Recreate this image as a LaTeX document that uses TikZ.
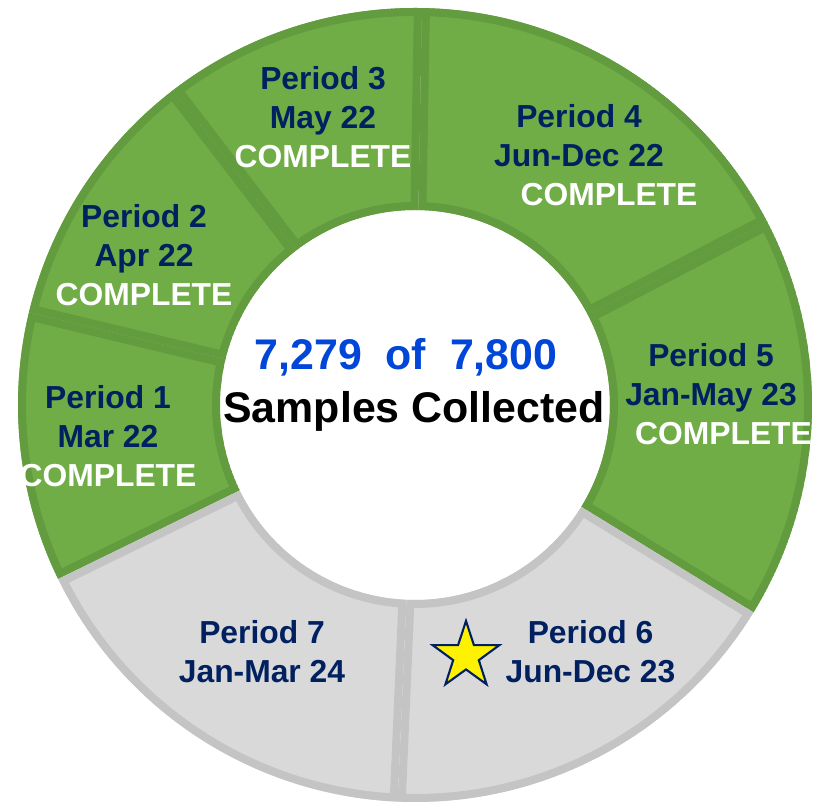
\documentclass[tikz,border=0pt]{standalone}
\usepackage{fontspec}
\setmainfont{Liberation Sans}
\usetikzlibrary{calc,shapes.geometric}
\definecolor{donegreen}{HTML}{70AD47}
\definecolor{doneedge}{HTML}{629C3F}
\definecolor{opengrey}{HTML}{D9D9D9}
\definecolor{openedge}{HTML}{C4C4C4}
\definecolor{navy}{HTML}{002060}
\definecolor{countblue}{HTML}{0046D8}

\begin{document}
\begin{tikzpicture}[
    period/.style={text=navy, align=center, inner sep=0pt,
    font=\bfseries\fontsize{18.1}{22.2}\selectfont},
    tally/.style={inner sep=0pt, font=\bfseries\fontsize{24.4}{28}\selectfont},
    ringedge/.style={line width=0.32cm}]
    \useasboundingbox (0,0) rectangle (16.54,16.02);
    \coordinate (c) at (8.30,7.92);

    % ring segments, each one with its own inner border
    \foreach \a/\b/\fc/\ec in {-31.5/27.5/donegreen/doneedge, 27.5/89/donegreen/doneedge,
        89/127.5/donegreen/doneedge, 127.5/166.5/donegreen/doneedge, 166.5/206/donegreen/doneedge,
        206/267.5/opengrey/openedge, 267.5/328.5/opengrey/openedge}
    {
        \begin{scope}
            \clip ($(c)+(\a:3.9)$) arc[start angle=\a, end angle=\b, radius=3.9]
                -- ($(c)+(\b:7.94)$) arc[start angle=\b, end angle=\a, radius=7.94] -- cycle;
            \filldraw[fill=\fc, draw=\ec, ringedge] ($(c)+(\a:3.9)$) arc[start angle=\a, end angle=\b, radius=3.9]
                -- ($(c)+(\b:7.94)$) arc[start angle=\b, end angle=\a, radius=7.94] -- cycle;
        \end{scope}
    }

    \node (p1) [period] at (2.16,7.30) {Period 1\\Mar 22\\\textcolor{white}{COMPLETE}};
    \node (p2) [period] at (2.88,10.92) {Period 2\\Apr 22\\\textcolor{white}{COMPLETE}};
    \node (p3) [period] at (6.46,13.68) {Period 3\\May 22\\\textcolor{white}{COMPLETE}};
    \node (p4) [period] at (11.58,12.92) {Period 4\\Jun-Dec 22\\\hspace*{1.2cm}\textcolor{white}{COMPLETE}};
    \node (p5) [period] at (14.22,8.14) {Period 5\\Jan-May 23\\\hspace*{0.5cm}\textcolor{white}{COMPLETE}};
    \node (p6) [period] at (11.81,2.99) {Period 6\\Jun-Dec 23};
    \node (p7) [period] at (5.24,2.99) {Period 7\\Jan-Mar 24};

    \node (star) [star, star points=5, star point ratio=2.6, minimum size=1.40cm, inner sep=0pt,
        fill=yellow, draw=navy, line width=1.2pt] at (9.32,2.90) {};

    \node (count) [tally, text=countblue] at (8.12,8.88) {7,279\ \ of\ \ 7,800};
    \node (samples) [tally] at (8.28,7.80) {Samples Collected};
\end{tikzpicture}
\end{document}
